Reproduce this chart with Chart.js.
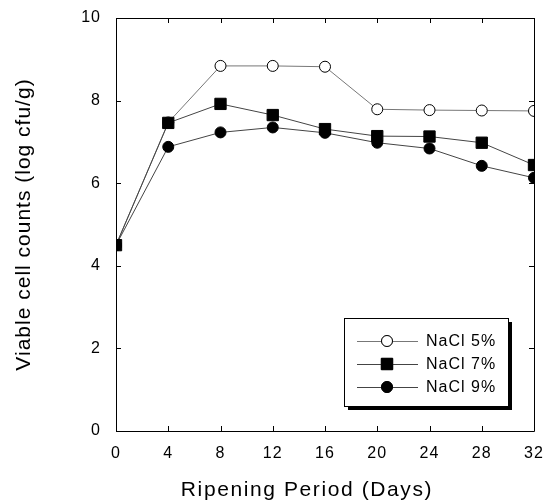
<!DOCTYPE html>
<html>
<head>
<meta charset="utf-8">
<script src="https://cdn.jsdelivr.net/npm/chart.js@4/dist/chart.umd.min.js"></script>
<style>
  body { margin: 0; background: #fff; }
</style>
</head>
<body>
<canvas id="myChart" width="547" height="504"></canvas>
<script>
// values
const days = [0, 4, 8, 12, 16, 20, 24, 28, 32];
const nacl5 = [4.5, 7.47, 8.84, 8.84, 8.82, 7.79, 7.77, 7.76, 7.75];
const nacl7 = [4.5, 7.46, 7.92, 7.65, 7.31, 7.14, 7.13, 6.98, 6.44];
const nacl9 = [4.5, 6.88, 7.23, 7.35, 7.22, 6.98, 6.84, 6.42, 6.13];
const seriesNames = ["NaCl 5%", "NaCl 7%", "NaCl 9%"];
const yTicks = [0, 2, 4, 6, 8, 10];
const xTitle = "Ripening Period (Days)";
const yTitle = "Viable cell counts (log cfu/g)";

const font = "'Liberation Sans', Arial, sans-serif";

function toPoints(values) {
  return days.map(function (d, i) {
    return { x: d, y: values[i] };
  });
}

// inward tick marks + frame + legend box + x title
const framePlugin = {
  id: "frame",
  beforeDraw(chart) {
    chart.ctx.letterSpacing = "1px";
  },
  afterDraw(chart) {
    const ctx = chart.ctx;
    const a = chart.chartArea;
    const xs = chart.scales.x;
    const ys = chart.scales.y;
    ctx.save();
    ctx.strokeStyle = "#000";
    ctx.lineWidth = 1;
    ctx.beginPath();
    ctx.rect(a.left + 0.5, a.top + 0.5, a.right - a.left, a.bottom - a.top);
    days.forEach(function (d) {
      const px = Math.round(xs.getPixelForValue(d)) + 0.5;
      ctx.moveTo(px, a.bottom);
      ctx.lineTo(px, a.bottom - 5);
      ctx.moveTo(px, a.top);
      ctx.lineTo(px, a.top + 5);
    });
    yTicks.forEach(function (v) {
      const py = Math.round(ys.getPixelForValue(v)) + 0.5;
      ctx.moveTo(a.left, py);
      ctx.lineTo(a.left + 5, py);
      ctx.moveTo(a.right, py);
      ctx.lineTo(a.right - 5, py);
    });
    ctx.stroke();

    // x axis title
    ctx.fillStyle = "#000";
    ctx.letterSpacing = "1.6px";
    ctx.font = "21px " + font;
    ctx.textAlign = "center";
    ctx.textBaseline = "middle";
    ctx.fillText(xTitle, 307, 490);
    ctx.letterSpacing = "1px";

    // legend
    const bx = 344, by = 318, bw = 164, bh = 88;
    ctx.fillStyle = "#000";
    ctx.fillRect(bx + 4, by + 4, bw, bh);
    ctx.fillStyle = "#fff";
    ctx.fillRect(bx, by, bw, bh);
    ctx.strokeRect(bx + 0.5, by + 0.5, bw, bh);

    const rows = [341, 364, 387];
    chart.data.datasets.forEach(function (ds, i) {
      const y = rows[i];
      ctx.strokeStyle = ds.borderColor;
      ctx.lineWidth = 1;
      ctx.beginPath();
      ctx.moveTo(357, y + 0.5);
      ctx.lineTo(418, y + 0.5);
      ctx.stroke();
      Chart.helpers.drawPoint(ctx, {
        pointStyle: ds.pointStyle,
        radius: ds.pointRadius,
        borderWidth: 1,
        rotation: 0
      }, 387, y);
      ctx.fillStyle = ds.pointBackgroundColor;
      ctx.strokeStyle = "#000";
      ctx.fill();
      ctx.stroke();
      ctx.fillStyle = "#000";
      ctx.font = "16px " + font;
      ctx.textBaseline = "middle";
      ctx.textAlign = "left";
      ctx.fillText(seriesNames[i], 426, y + 1);
    });
    ctx.restore();
  }
};

const chart = new Chart(document.getElementById("myChart"), {
  type: "line",
  data: {
    datasets: [
      {
        label: seriesNames[0],
        data: toPoints(nacl5),
        borderColor: "#777",
        borderWidth: 1,
        pointStyle: "circle",
        pointRadius: 5.5,
        pointBackgroundColor: "#fff",
        pointBorderColor: "#000",
        pointBorderWidth: 1,
        order: 3
      },
      {
        label: seriesNames[1],
        data: toPoints(nacl7),
        borderColor: "#444",
        borderWidth: 1,
        pointStyle: "rect",
        pointRadius: 8,
        pointBackgroundColor: "#000",
        pointBorderColor: "#000",
        pointBorderWidth: 1,
        order: 1
      },
      {
        label: seriesNames[2],
        data: toPoints(nacl9),
        borderColor: "#444",
        borderWidth: 1,
        pointStyle: "circle",
        pointRadius: 5.5,
        pointBackgroundColor: "#000",
        pointBorderColor: "#000",
        pointBorderWidth: 1,
        order: 2
      }
    ]
  },
  options: {
    responsive: false,
    animation: false,
    devicePixelRatio: 1,
    layout: { padding: { top: 18, right: 13, left: 0, bottom: 0 } },
    plugins: {
      legend: { display: false },
      tooltip: { enabled: false }
    },
    elements: { line: { tension: 0 } },
    scales: {
      x: {
        type: "linear",
        min: 0,
        max: 32,
        grid: { display: false, drawTicks: false },
        border: { display: false },
        ticks: {
          stepSize: 4,
          padding: 13,
          color: "#000",
          font: { family: font, size: 16 },
          maxRotation: 0
        },
        afterFit(scale) {
          scale.height = 73;
          scale.paddingLeft = 0;
          scale.paddingRight = 0;
        }
      },
      y: {
        min: 0,
        max: 10,
        grid: { display: false, drawTicks: false },
        border: { display: false },
        ticks: {
          stepSize: 2,
          padding: 15,
          color: "#000",
          font: { family: font, size: 16 }
        },
        title: {
          display: true,
          text: yTitle,
          color: "#000",
          font: { family: font, size: 21 },
          padding: { top: 12, bottom: 0 }
        },
        afterFit(scale) {
          scale.width = 116;
          scale.paddingTop = 0;
          scale.paddingBottom = 0;
        }
      }
    }
  },
  plugins: [framePlugin]
});
</script>
</body>
</html>
